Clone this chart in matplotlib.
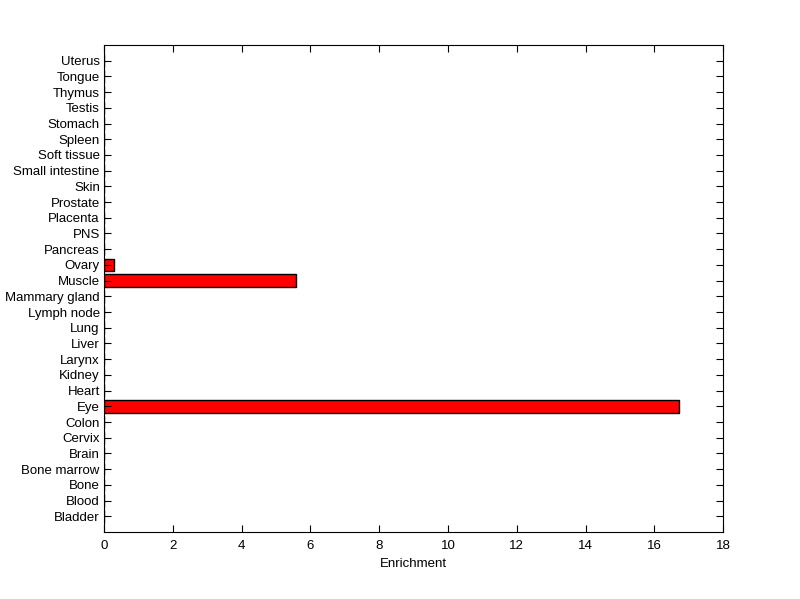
import matplotlib
matplotlib.use("Agg")
import matplotlib.pyplot as plt
import numpy as np

categories = ["Bladder", "Blood", "Bone", "Bone marrow", "Brain", "Cervix", "Colon", "Eye",
              "Heart", "Kidney", "Larynx", "Liver", "Lung", "Lymph node", "Mammary gland",
              "Muscle", "Ovary", "Pancreas", "PNS", "Placenta", "Prostate", "Skin",
              "Small intestine", "Soft tissue", "Spleen", "Stomach", "Testis", "Thymus",
              "Tongue", "Uterus"]
values = [0, 0, 0, 0, 0, 0, 0, 16.72, 0, 0, 0, 0, 0, 0, 0, 5.59, 0.30, 0, 0, 0, 0, 0,
          0, 0, 0, 0, 0, 0, 0, 0]
xticks = [0, 2, 4, 6, 8, 10, 12, 14, 16, 18]

plt.rcParams['font.family'] = ['Liberation Sans', 'DejaVu Sans']
fig = plt.figure(figsize=(8.0, 5.99), dpi=100)
ax = fig.add_axes([0.13, 0.1119, 0.774, 0.813])
pos = np.arange(1, len(categories) + 1)
ax.barh(pos, values, height=0.8, color='#ff0000', edgecolor='black', linewidth=1.0)
ax.set_ylim(0, 31)
ax.set_xlim(0, 18)
ax.set_yticks(pos)
ax.set_yticklabels(categories, fontsize=9.5)
ax.set_xticks(xticks)
ax.set_xticklabels([str(t) for t in xticks], fontsize=9.5)
ax.set_xlabel("Enrichment", fontsize=9.5, labelpad=4)
ax.tick_params(direction='in', length=5, width=0.8, top=True, right=True, pad=3)
ax.tick_params(axis='x', pad=6)
for s in ax.spines.values():
    s.set_linewidth(0.8)
fig.savefig("out.png", dpi=100)
